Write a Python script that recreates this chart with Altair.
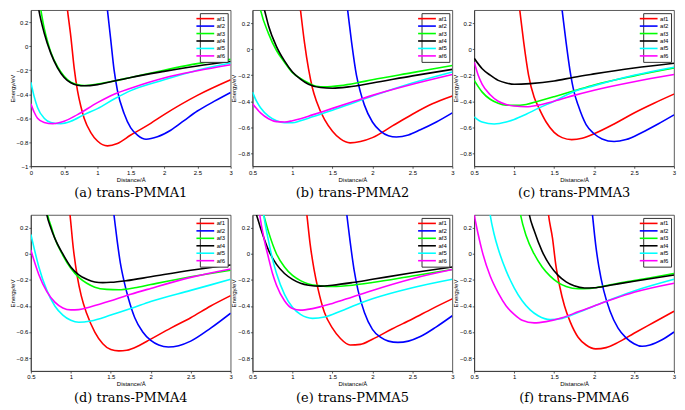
import altair as alt
import pandas as pd

SERIES = ["af1", "af2", "af3", "af4", "af5", "af6"]
COLORS = ["#ff0000", "#0000ff", "#00ff00", "#000000", "#00ffff", "#ff00ff"]
CAPTIONS = ["(a) trans-PMMA1", "(b) trans-PMMA2", "(c) trans-PMMA3",
            "(d) trans-PMMA4", "(e) trans-PMMA5", "(f) trans-PMMA6"]

X_TICKS_A = [0, 0.5, 1, 1.5, 2, 2.5, 3]
X_TICKS = [0.5, 1, 1.5, 2, 2.5, 3]
Y_TICKS_A = [-1, -0.8, -0.6, -0.4, -0.2, 0, 0.2]
Y_TICKS = [-0.8, -0.6, -0.4, -0.2, 0, 0.2]

# ---- panel (a) ----
A_AF1 = [(0.5, 0.55), (0.55, 0.3), (0.6, 0.08), (0.65, -0.18), (0.7, -0.37), (0.75, -0.5), (0.8, -0.6),
         (0.9, -0.72), (1.0, -0.79), (1.15, -0.83), (1.3, -0.81), (1.5, -0.74), (1.75, -0.66), (2.0, -0.57),
         (2.5, -0.41), (3.0, -0.28)]
A_AF2 = [(1.1, 0.55), (1.15, 0.3), (1.2, 0.05), (1.25, -0.2), (1.3, -0.37), (1.4, -0.56), (1.5, -0.68),
         (1.6, -0.74), (1.73, -0.775), (1.9, -0.755), (2.1, -0.7), (2.3, -0.62), (2.5, -0.54), (2.75, -0.46),
         (3.0, -0.385)]
A_AF3 = [(0.12, 0.4), (0.15, 0.3), (0.2, 0.15), (0.25, 0.04), (0.3, -0.05), (0.4, -0.17), (0.5, -0.25),
         (0.6, -0.3), (0.7, -0.32), (0.8, -0.328), (1.0, -0.315), (1.25, -0.29), (1.5, -0.26), (2.0, -0.2),
         (2.5, -0.145), (3.0, -0.11)]
A_AF4 = [(0.09, 0.4), (0.12, 0.3), (0.2, 0.11), (0.3, -0.06), (0.4, -0.18), (0.5, -0.26), (0.6, -0.305),
         (0.7, -0.325), (0.8, -0.33), (1.0, -0.32), (1.25, -0.29), (1.5, -0.26), (2.0, -0.21), (2.5, -0.165),
         (3.0, -0.128)]
A_AF5 = [(0.0, -0.3), (0.05, -0.42), (0.1, -0.51), (0.2, -0.6), (0.3, -0.635), (0.45, -0.645), (0.6, -0.625),
         (0.8, -0.57), (1.0, -0.52), (1.25, -0.44), (1.5, -0.37), (2.0, -0.28), (2.5, -0.2), (3.0, -0.14)]
A_AF6 = [(0.0, -0.48), (0.05, -0.55), (0.1, -0.6), (0.2, -0.635), (0.33, -0.645), (0.5, -0.625), (0.7, -0.57),
         (1.0, -0.47), (1.25, -0.4), (1.5, -0.35), (2.0, -0.265), (2.5, -0.205), (3.0, -0.155)]

# ---- panel (b) ----
B_AF1 = [(1.05, 0.55), (1.1, 0.3), (1.15, 0.05), (1.2, -0.15), (1.25, -0.3), (1.3, -0.4), (1.4, -0.54),
         (1.5, -0.63), (1.6, -0.69), (1.72, -0.72), (1.85, -0.71), (2.0, -0.68), (2.25, -0.59), (2.5, -0.5),
         (2.75, -0.42), (3.0, -0.36)]
B_AF2 = [(1.64, 0.55), (1.69, 0.3), (1.74, 0.05), (1.8, -0.2), (1.85, -0.33), (1.9, -0.43), (2.0, -0.56),
         (2.1, -0.63), (2.2, -0.665), (2.3, -0.675), (2.45, -0.66), (2.6, -0.62), (2.8, -0.56), (3.0, -0.49)]
B_AF3 = [(0.55, 0.45), (0.6, 0.3), (0.7, 0.12), (0.8, -0.01), (0.9, -0.1), (1.0, -0.18), (1.1, -0.225),
         (1.2, -0.26), (1.3, -0.285), (1.4, -0.29), (1.6, -0.28), (1.8, -0.26), (2.0, -0.235), (2.5, -0.18),
         (3.0, -0.125)]
B_AF4 = [(0.6, 0.4), (0.65, 0.3), (0.7, 0.18), (0.8, 0.02), (0.9, -0.09), (1.0, -0.175), (1.1, -0.23),
         (1.2, -0.27), (1.35, -0.295), (1.5, -0.3), (1.7, -0.29), (2.0, -0.26), (2.5, -0.205), (3.0, -0.155)]
B_AF5 = [(0.5, -0.33), (0.55, -0.4), (0.6, -0.45), (0.7, -0.515), (0.8, -0.55), (0.9, -0.565), (1.0, -0.565),
         (1.1, -0.55), (1.25, -0.52), (1.5, -0.47), (1.75, -0.415), (2.0, -0.36), (2.5, -0.26), (3.0, -0.175)]
B_AF6 = [(0.5, -0.42), (0.6, -0.49), (0.7, -0.535), (0.8, -0.557), (0.9, -0.56), (1.0, -0.55), (1.1, -0.535),
         (1.25, -0.505), (1.5, -0.455), (1.75, -0.405), (2.0, -0.355), (2.5, -0.27), (3.0, -0.195)]

# ---- panel (c) ----
C_AF1 = [(1.02, 0.55), (1.07, 0.3), (1.12, 0.05), (1.18, -0.2), (1.25, -0.37), (1.3, -0.44), (1.4, -0.56),
         (1.5, -0.64), (1.6, -0.68), (1.72, -0.695), (1.85, -0.685), (2.0, -0.65), (2.25, -0.575), (2.5, -0.49),
         (2.75, -0.415), (3.0, -0.345)]
C_AF2 = [(1.55, 0.55), (1.6, 0.3), (1.65, 0.05), (1.7, -0.17), (1.75, -0.33), (1.8, -0.43), (1.9, -0.58),
         (2.0, -0.65), (2.1, -0.69), (2.25, -0.71), (2.4, -0.695), (2.6, -0.64), (2.8, -0.575), (3.0, -0.505)]
C_AF3 = [(0.5, -0.24), (0.6, -0.33), (0.7, -0.385), (0.8, -0.415), (0.9, -0.43), (1.0, -0.432), (1.15, -0.425),
         (1.3, -0.4), (1.5, -0.365), (1.75, -0.32), (2.0, -0.275), (2.5, -0.205), (3.0, -0.145)]
C_AF4 = [(0.5, -0.07), (0.6, -0.15), (0.7, -0.2), (0.8, -0.24), (0.9, -0.26), (1.0, -0.27), (1.2, -0.265),
         (1.5, -0.245), (1.75, -0.215), (2.0, -0.19), (2.5, -0.145), (3.0, -0.108)]
C_AF5 = [(0.5, -0.52), (0.6, -0.56), (0.75, -0.575), (0.9, -0.56), (1.0, -0.54), (1.15, -0.5), (1.3, -0.455),
         (1.5, -0.4), (1.75, -0.325), (2.0, -0.28), (2.5, -0.2), (3.0, -0.138)]
C_AF6 = [(0.5, -0.1), (0.55, -0.2), (0.6, -0.27), (0.7, -0.35), (0.8, -0.4), (0.9, -0.425), (1.0, -0.437),
         (1.15, -0.442), (1.3, -0.43), (1.5, -0.4), (1.75, -0.355), (2.0, -0.315), (2.5, -0.25), (3.0, -0.195)]

# ---- panel (d) ----
D_AF1 = [(0.94, 0.55), (0.99, 0.3), (1.03, 0.05), (1.08, -0.17), (1.13, -0.32), (1.2, -0.46), (1.3, -0.6),
         (1.4, -0.69), (1.5, -0.735), (1.6, -0.745), (1.7, -0.74), (1.85, -0.705), (2.0, -0.655), (2.25, -0.57),
         (2.5, -0.49), (2.75, -0.4), (3.0, -0.32)]
D_AF2 = [(1.49, 0.55), (1.54, 0.3), (1.58, 0.1), (1.62, -0.07), (1.67, -0.22), (1.72, -0.34), (1.8, -0.49),
         (1.9, -0.6), (2.0, -0.665), (2.1, -0.7), (2.22, -0.715), (2.35, -0.705), (2.5, -0.67), (2.75, -0.57),
         (3.0, -0.455)]
D_AF3 = [(0.67, 0.45), (0.71, 0.3), (0.76, 0.2), (0.8, 0.12), (0.9, -0.01), (1.0, -0.11), (1.1, -0.18),
         (1.2, -0.225), (1.3, -0.255), (1.45, -0.272), (1.6, -0.275), (1.8, -0.26), (2.0, -0.235), (2.5, -0.175),
         (3.0, -0.125)]
D_AF4 = [(0.66, 0.45), (0.7, 0.3), (0.75, 0.2), (0.8, 0.12), (0.9, 0.0), (1.0, -0.1), (1.1, -0.16),
         (1.2, -0.195), (1.3, -0.215), (1.4, -0.22), (1.5, -0.218), (1.7, -0.205), (2.0, -0.175), (2.5, -0.125),
         (3.0, -0.085)]
D_AF5 = [(0.5, 0.15), (0.55, 0.02), (0.6, -0.1), (0.7, -0.28), (0.8, -0.4), (0.9, -0.47), (1.0, -0.51),
         (1.1, -0.525), (1.25, -0.515), (1.5, -0.47), (1.75, -0.42), (2.0, -0.365), (2.5, -0.28), (3.0, -0.195)]
D_AF6 = [(0.5, 0.03), (0.55, -0.07), (0.6, -0.16), (0.7, -0.29), (0.8, -0.37), (0.9, -0.415), (1.0, -0.43),
         (1.1, -0.428), (1.25, -0.405), (1.5, -0.36), (1.75, -0.31), (2.0, -0.265), (2.5, -0.18), (3.0, -0.115)]

# ---- panel (e) ----
E_AF1 = [(1.13, 0.55), (1.18, 0.3), (1.22, 0.08), (1.27, -0.12), (1.32, -0.27), (1.4, -0.45), (1.5, -0.57),
         (1.6, -0.65), (1.72, -0.7), (1.85, -0.695), (2.0, -0.655), (2.25, -0.575), (2.5, -0.5), (2.75, -0.42),
         (3.0, -0.345)]
E_AF2 = [(1.63, 0.55), (1.68, 0.3), (1.72, 0.1), (1.77, -0.12), (1.82, -0.28), (1.9, -0.45), (2.0, -0.58),
         (2.1, -0.64), (2.2, -0.67), (2.32, -0.68), (2.45, -0.67), (2.6, -0.635), (2.8, -0.56), (3.0, -0.475)]
E_AF3 = [(0.6, 0.4), (0.64, 0.3), (0.7, 0.17), (0.8, 0.0), (0.9, -0.1), (1.0, -0.165), (1.1, -0.205),
         (1.2, -0.23), (1.35, -0.245), (1.5, -0.25), (1.75, -0.24), (2.0, -0.22), (2.5, -0.17), (3.0, -0.12)]
E_AF4 = [(0.5, 0.4), (0.55, 0.3), (0.6, 0.2), (0.7, 0.03), (0.8, -0.08), (0.9, -0.15), (1.0, -0.195),
         (1.1, -0.225), (1.2, -0.24), (1.35, -0.247), (1.5, -0.24), (1.75, -0.22), (2.0, -0.195), (2.5, -0.145),
         (3.0, -0.1)]
E_AF5 = [(0.6, 0.5), (0.64, 0.3), (0.7, 0.1), (0.75, -0.04), (0.8, -0.15), (0.9, -0.31), (1.0, -0.41),
         (1.1, -0.465), (1.25, -0.495), (1.4, -0.485), (1.6, -0.44), (1.8, -0.39), (2.0, -0.345), (2.5, -0.26),
         (3.0, -0.195)]
E_AF6 = [(0.56, 0.45), (0.59, 0.3), (0.65, 0.1), (0.7, -0.03), (0.75, -0.15), (0.8, -0.24), (0.9, -0.36),
         (1.0, -0.42), (1.1, -0.432), (1.25, -0.42), (1.5, -0.38), (1.75, -0.33), (2.0, -0.28), (2.5, -0.19),
         (3.0, -0.12)]

# ---- panel (f) ----
F_AF1 = [(1.39, 0.55), (1.43, 0.3), (1.48, 0.12), (1.52, -0.08), (1.57, -0.25), (1.63, -0.4), (1.7, -0.52),
         (1.8, -0.64), (1.9, -0.7), (2.02, -0.73), (2.15, -0.72), (2.3, -0.68), (2.5, -0.61), (2.75, -0.525),
         (3.0, -0.44)]
F_AF2 = [(1.94, 0.55), (1.98, 0.3), (2.02, 0.07), (2.06, -0.1), (2.12, -0.28), (2.2, -0.44), (2.3, -0.57),
         (2.4, -0.645), (2.5, -0.69), (2.6, -0.71), (2.7, -0.7), (2.85, -0.66), (3.0, -0.6)]
F_AF3 = [(1.04, 0.45), (1.08, 0.3), (1.15, 0.14), (1.25, 0.0), (1.35, -0.1), (1.45, -0.17), (1.55, -0.22),
         (1.65, -0.25), (1.8, -0.268), (1.95, -0.265), (2.1, -0.25), (2.3, -0.225), (2.5, -0.205), (3.0, -0.15)]
F_AF4 = [(1.15, 0.45), (1.19, 0.3), (1.25, 0.18), (1.35, 0.02), (1.45, -0.09), (1.55, -0.165), (1.65, -0.215),
         (1.75, -0.245), (1.88, -0.262), (2.0, -0.26), (2.2, -0.24), (2.5, -0.21), (3.0, -0.162)]
F_AF5 = [(0.66, 0.5), (0.7, 0.3), (0.75, 0.15), (0.8, 0.04), (0.9, -0.13), (1.0, -0.26), (1.1, -0.36),
         (1.2, -0.43), (1.3, -0.475), (1.45, -0.505), (1.6, -0.495), (1.8, -0.45), (2.0, -0.4), (2.25, -0.34),
         (2.5, -0.285), (3.0, -0.195)]
F_AF6 = [(0.5, 0.3), (0.55, 0.15), (0.6, 0.02), (0.7, -0.17), (0.8, -0.3), (0.9, -0.4), (1.0, -0.465),
         (1.1, -0.51), (1.25, -0.53), (1.4, -0.52), (1.6, -0.49), (1.8, -0.445), (2.0, -0.4), (2.25, -0.345),
         (2.5, -0.295), (3.0, -0.225)]

PANELS = [
    ([A_AF1, A_AF2, A_AF3, A_AF4, A_AF5, A_AF6], [0, 3], [-1, 0.3], X_TICKS_A, Y_TICKS_A),
    ([B_AF1, B_AF2, B_AF3, B_AF4, B_AF5, B_AF6], [0.5, 3], [-0.9, 0.3], X_TICKS, Y_TICKS),
    ([C_AF1, C_AF2, C_AF3, C_AF4, C_AF5, C_AF6], [0.5, 3], [-0.9, 0.3], X_TICKS, Y_TICKS),
    ([D_AF1, D_AF2, D_AF3, D_AF4, D_AF5, D_AF6], [0.5, 3], [-0.9, 0.3], X_TICKS, Y_TICKS),
    ([E_AF1, E_AF2, E_AF3, E_AF4, E_AF5, E_AF6], [0.5, 3], [-0.9, 0.3], X_TICKS, Y_TICKS),
    ([F_AF1, F_AF2, F_AF3, F_AF4, F_AF5, F_AF6], [0.5, 3], [-0.9, 0.3], X_TICKS, Y_TICKS),
]


def make_panel(curves, caption, xdom, ydom, xticks, yticks):
    rows = []
    for name, pts in zip(SERIES, curves):
        for x, y in pts:
            rows.append({"x": x, "y": y, "series": name})
    df = pd.DataFrame(rows)
    return (
        alt.Chart(
            df,
            title=alt.TitleParams(
                caption, orient="bottom", anchor="middle", font="DejaVu Serif",
                fontSize=13, fontWeight="normal", color="black", offset=5,
            ),
        )
        .mark_line(clip=True, strokeWidth=1.6, interpolate="monotone")
        .encode(
            x=alt.X("x:Q", scale=alt.Scale(domain=xdom, nice=False, zero=False),
                    axis=alt.Axis(values=xticks, title="Distance/Å", format="~g")),
            y=alt.Y("y:Q", scale=alt.Scale(domain=ydom, nice=False, zero=False),
                    axis=alt.Axis(values=yticks, title="Energy/eV", format="~g")),
            color=alt.Color("series:N", scale=alt.Scale(domain=SERIES, range=COLORS),
                            legend=alt.Legend(title=None, orient="top-right")),
        )
        .properties(width=201, height=157)
    )


charts = [make_panel(p[0], cap, p[1], p[2], p[3], p[4]) for p, cap in zip(PANELS, CAPTIONS)]

chart = (
    alt.concat(*charts, columns=3, spacing={"row": 49, "column": 22}, bounds="flush", padding=0)
    .resolve_scale(color="independent")
    .resolve_legend(color="independent")
    .configure(background="white")
    .configure_view(stroke="#333333", strokeWidth=0.8)
    .configure_axis(
        grid=False, domainColor="#333333", domainWidth=0.8, tickColor="#333333", tickSize=2,
        tickWidth=0.8, labelFont="Liberation Sans", labelFontSize=6, labelColor="black",
        labelPadding=1, titleFont="Liberation Sans", titleFontSize=6, titleFontWeight="normal",
        titleColor="black", titlePadding=1, labelFlush=False,
    )
    .configure_legend(
        symbolType="M-4,0H4", symbolSize=20, symbolStrokeWidth=1.6, labelFont="Liberation Sans",
        labelFontSize=6, labelColor="black", padding=2, strokeColor="#333333", fillColor="white",
        offset=3, rowPadding=0.5, labelOffset=8, cornerRadius=0, labelLimit=30,
    )
)

chart.save("out.html", embed_options={"renderer": "svg", "actions": False})
